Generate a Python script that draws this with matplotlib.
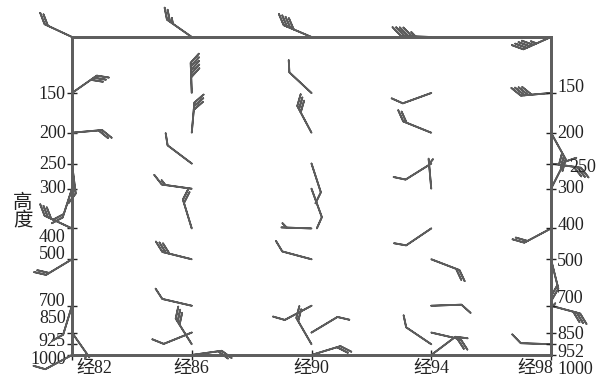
import numpy as np
import matplotlib.pyplot as plt
from matplotlib.transforms import ScaledTranslation
from matplotlib.ticker import NullLocator

plt.rcParams['font.family'] = ['Liberation Serif', 'Noto Sans CJK SC']

# 经度列与气压层 (hPa)
lons = [82, 86, 90, 94, 98]
levels = [100, 150, 200, 250, 300, 400, 500, 700, 850, 925, 1000]
nan = np.nan

# 风向 (度, 来向) 与风速 (kt), 每列自上而下
dir_82 = [295, 55, 85, 173, 198, 295, 239, 197, 145, nan, 242]
spd_82 = [20, 30, 20, 10, 20, 30, 20, 10, 5, nan, 10]
dir_86 = [305, 358, 5, 307, 278, 343, 284, 283, 248, 328, 82]
spd_86 = [25, 50, 30, 10, 15, 20, 30, 10, 10, 30, 20]
dir_90 = [293, 313, 332, 162, 160, 272, 285, 242, 59, 330, 73]
spd_90 = [40, 10, 30, 10, 10, 5, 10, 10, 10, 20, 20]
dir_94 = [272, 250, 292, 238, 355, 236, 111, 88, 103, 304, 53]
spd_94 = [45, 10, 20, 10, 5, 10, 20, 10, 20, 10, 10]
dir_98 = [246, 265, 151, 98, 27, 242, 166, 105, 0, 272, nan]
spd_98 = [45, 40, 30, 30, 10, 20, 20, 30, 5, 10, nan]

left_ticks = [150, 200, 250, 300, 400, 500, 700, 850, 925, 1000]
left_labels = ['150', '200', '250', '300', '400', '500', '700', '850', '925', '1000']
right_labels = ['150', '200', '250', '300', '400', '500', '700', '850', '952', '1000']
x_labels = ['经82', '经86', '经90', '经94', '经98']

# 组装网格
dirs = np.array([dir_82, dir_86, dir_90, dir_94, dir_98], dtype=float)
spds = np.array([spd_82, spd_86, spd_90, spd_94, spd_98], dtype=float)
X, Y = np.meshgrid(lons, levels, indexing='ij')
rad = np.deg2rad(dirs)
U = np.ma.masked_invalid(-spds * np.sin(rad))
V = np.ma.masked_invalid(-spds * np.cos(rad))

fig = plt.figure(figsize=(6.13, 3.78), dpi=100)
ax = fig.add_axes([72 / 613, 1 - 355 / 378, 479 / 613, 318 / 378])

ax.barbs(X, Y, U, V, length=6.6, pivot='tip',
         sizes=dict(spacing=0.12, height=0.28, width=0.58),
         barb_increments=dict(half=5, full=10, flag=100),
         color='#5c5c5c', linewidth=1.3, clip_on=False, zorder=3)

ax.set_yscale('log')
ax.set_xlim(82, 98)
ax.set_ylim(1000, 100)
ax.yaxis.set_minor_locator(NullLocator())
ax.set_yticks(left_ticks, left_labels)
ax.set_xticks(lons, x_labels)

ax2 = ax.twinx()
ax2.set_yscale('log')
ax2.set_ylim(1000, 100)
ax2.yaxis.set_minor_locator(NullLocator())
ax2.set_yticks(left_ticks, right_labels)

for a in (ax, ax2):
    for s in a.spines.values():
        s.set_color('#5e5e5e')
        s.set_linewidth(2.0)
    a.tick_params(direction='inout', length=7, width=1, colors='#222222',
                  labelsize=13, pad=1)
ax.tick_params(axis='x', pad=0, labelsize=13)

# 逐个微调刻度标签位置 (像素, 正值向下)
def shift(label, dx, dy):
    label.set_transform(label.get_transform() +
                        ScaledTranslation(dx / 100, -dy / 100, fig.dpi_scale_trans))

left_dy = [0, -1, -1, -2, 7, -7, -6, -16, -5, 2]
for t, d in zip(ax.yaxis.get_major_ticks(), left_dy):
    shift(t.label1, 0, d)
right_dy = [-7, -1, 2, -2, -5, 0, -9, 0, 6, 12]
right_dx = [0, 0, 12, 0, 0, 0, 0, 0, 0, 0]
for t, d, e in zip(ax2.yaxis.get_major_ticks(), right_dy, right_dx):
    shift(t.label2, e, d)

xt = ax.xaxis.get_major_ticks()
xt[0].label1.set_horizontalalignment('left')
shift(xt[0].label1, 4, 0)
xt[-1].label1.set_horizontalalignment('right')
shift(xt[-1].label1, 2, 0)

fig.text(23 / 613, 1 - 212 / 378, '高\n度', ha='center', va='center',
         fontsize=14, linespacing=0.95, color='#222222')

fig.savefig('out.png', dpi=100)
